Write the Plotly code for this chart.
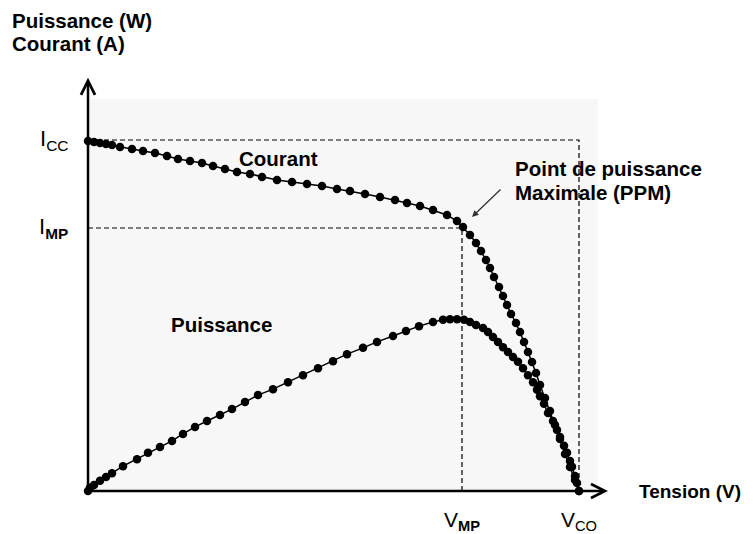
"""Caracteristique I-V et P-V d'un module photovoltaique (PPM)."""

import plotly.graph_objects as go

# Courbe du courant (V, A)
tension_courant = [
    0, 0.3, 0.6, 0.9, 1.2, 1.6, 2.2, 2.75, 3.35, 3.95, 4.5, 5.1, 5.7, 6.25,
    6.85, 7.45, 8.1, 8.7, 9.45, 10.2, 10.95, 11.7, 12.45, 13.1, 13.85, 14.6,
    15.35, 15.95, 16.6, 17.25, 17.95, 18.45, 18.75, 19.1, 19.4, 19.65, 19.9,
    20.1, 20.3, 20.55, 20.75, 20.95, 21.15, 21.4, 21.6, 21.8, 22.0, 22.2, 22.4,
    22.6, 22.85, 23.1, 23.35, 23.6, 23.85, 24.1, 24.35, 24.55,
]
courant = [
    3.50, 3.49, 3.48, 3.47, 3.46, 3.44, 3.42, 3.40, 3.38, 3.35, 3.32, 3.30,
    3.28, 3.25, 3.22, 3.19, 3.17, 3.14, 3.11, 3.09, 3.07, 3.05, 3.02, 3.00,
    2.97, 2.94, 2.91, 2.88, 2.85, 2.81, 2.76, 2.70, 2.64, 2.56, 2.48, 2.40,
    2.31, 2.23, 2.14, 2.04, 1.95, 1.86, 1.77, 1.68, 1.59, 1.49, 1.39, 1.29,
    1.18, 1.06, 0.93, 0.80, 0.66, 0.52, 0.37, 0.24, 0.11, 0,
]

# Courbe de puissance (V, W)
tension_puissance = [
    0, 0.1, 0.3, 0.6, 0.9, 1.2, 1.75, 2.45, 3.0, 3.6, 4.2, 4.75, 5.35, 5.95,
    6.6, 7.2, 7.85, 8.5, 9.25, 10.0, 10.75, 11.5, 12.25, 12.95, 13.75, 14.45,
    15.25, 15.9, 16.55, 17.25, 17.75, 18.1, 18.45, 18.8, 19.1, 19.4, 19.75,
    20.0, 20.25, 20.5, 20.75, 21.0, 21.25, 21.5, 21.75, 22.0, 22.25, 22.45,
    22.6, 22.8, 23.0, 23.25, 23.45, 23.6, 23.8, 23.95, 24.1, 24.2, 24.35,
    24.45, 24.55,
]
puissance = [
    0, 0.9, 1.7, 2.9, 4.0, 5.1, 7.1, 9.1, 10.9, 12.6, 14.3, 16.3, 18.3, 20.0,
    21.7, 23.4, 25.4, 27.4, 29.1, 31.1, 33.1, 35.1, 37.1, 39.1, 40.9, 42.6,
    44.3, 45.7, 47.1, 48.3, 48.9, 49.1, 49.1, 48.9, 48.3, 47.4, 46.6, 45.4,
    44.0, 42.6, 41.1, 39.7, 38.3, 36.9, 35.1, 33.1, 31.1, 28.9, 27.1, 24.9,
    22.3, 20.0, 17.4, 15.4, 12.9, 10.9, 8.6, 6.9, 4.3, 2.3, 0,
]

I_CC = 3.51
I_MP = 2.63
V_MP = 18.7
V_CO = 24.55

FONT = "Liberation Sans, Arial, sans-serif"
DASH = dict(color="black", width=1.2, dash="5px,3px")
LABEL = dict(size=20.5)

fig = go.Figure()

# lignes pointillees de repere
for xs, ys in [
    ([0, V_CO, V_CO], [I_CC, I_CC, 0]),
    ([0, V_MP, V_MP], [I_MP, I_MP, 0]),
]:
    fig.add_trace(go.Scatter(x=xs, y=ys, mode="lines", line=DASH, hoverinfo="skip"))

fig.add_trace(
    go.Scatter(
        x=tension_courant,
        y=courant,
        mode="lines+markers",
        name="Courant",
        line=dict(color="black", width=1.5),
        marker=dict(color="black", size=8.5),
        cliponaxis=False,
    )
)
fig.add_trace(
    go.Scatter(
        x=tension_puissance,
        y=puissance,
        mode="lines+markers",
        name="Puissance",
        yaxis="y2",
        line=dict(color="black", width=1.5),
        marker=dict(color="black", size=8.5),
        cliponaxis=False,
    )
)

annotations = [
    # axes avec fleches
    dict(xref="paper", yref="paper", x=0, y=1.054, ax=0, ay=413, text="",
         showarrow=True, arrowhead=5, arrowsize=1.1, arrowwidth=2.5,
         arrowcolor="black", standoff=0),
    dict(xref="paper", yref="paper", x=1.0196, y=0, ax=-520, ay=0, text="",
         showarrow=True, arrowhead=5, arrowsize=1.1, arrowwidth=2.5,
         arrowcolor="black", standoff=0),
    # titres des axes
    dict(xref="paper", yref="paper", x=-0.152, y=1.2, xanchor="left",
         yanchor="middle", text="<b>Puissance (W)</b>", showarrow=False,
         font=LABEL),
    dict(xref="paper", yref="paper", x=-0.152, y=1.141, xanchor="left",
         yanchor="middle", text="<b>Courant (A)</b>", showarrow=False,
         font=LABEL),
    dict(xref="paper", yref="paper", x=1.284, y=0, xanchor="right",
         yanchor="middle", text="<b>Tension (V)</b>", showarrow=False,
         font=dict(size=19)),
    # reperes
    dict(x=0, y=I_CC, xanchor="right", yanchor="middle", xshift=-18,
         text="I<sub>CC</sub>", showarrow=False, font=dict(size=22)),
    dict(x=0, y=I_MP, xanchor="right", yanchor="middle", xshift=-18,
         text="I<sub><b>MP</b></sub>", showarrow=False, font=dict(size=22)),
    dict(x=V_MP, y=0, xanchor="center", yanchor="top", yshift=-15,
         text="V<sub><b>MP</b></sub>", showarrow=False, font=dict(size=21)),
    dict(x=V_CO, y=0, xanchor="center", yanchor="top", yshift=-15,
         text="V<sub>CO</sub>", showarrow=False, font=dict(size=21)),
    # etiquettes des courbes
    dict(x=9.5, y=3.33, text="<b>Courant</b>", showarrow=False, font=LABEL),
    dict(x=6.65, y=1.67, text="<b>Puissance</b>", showarrow=False, font=LABEL),
    dict(x=21.25, y=3.23, xanchor="left", text="<b>Point de puissance</b>",
         showarrow=False, font=LABEL),
    dict(x=21.25, y=2.99, xanchor="left", text="<b>Maximale (PPM)</b>",
         showarrow=False, font=LABEL),
    dict(x=19.2, y=2.74, ax=20.7, ay=3.03, axref="x", ayref="y", text="",
         showarrow=True, arrowhead=2, arrowsize=1, arrowwidth=1.3,
         arrowcolor="#333333", standoff=0),
]

hidden = dict(showgrid=False, zeroline=False, showticklabels=False,
              ticks="", showline=False)

# la page ajoute une marge de 8 px : la figure est reduite d'autant
fig.update_layout(
    width=745,
    height=526,
    margin=dict(l=80, r=155, t=91, b=43),
    paper_bgcolor="white",
    plot_bgcolor="#f7f7f7",
    font=dict(family=FONT, color="black"),
    showlegend=False,
    xaxis=dict(range=[0, 25.5], **hidden),
    yaxis=dict(range=[0, 3.92], **hidden),
    yaxis2=dict(range=[0, 112], overlaying="y", visible=False),
    annotations=annotations,
)

fig.write_html("out.html")
